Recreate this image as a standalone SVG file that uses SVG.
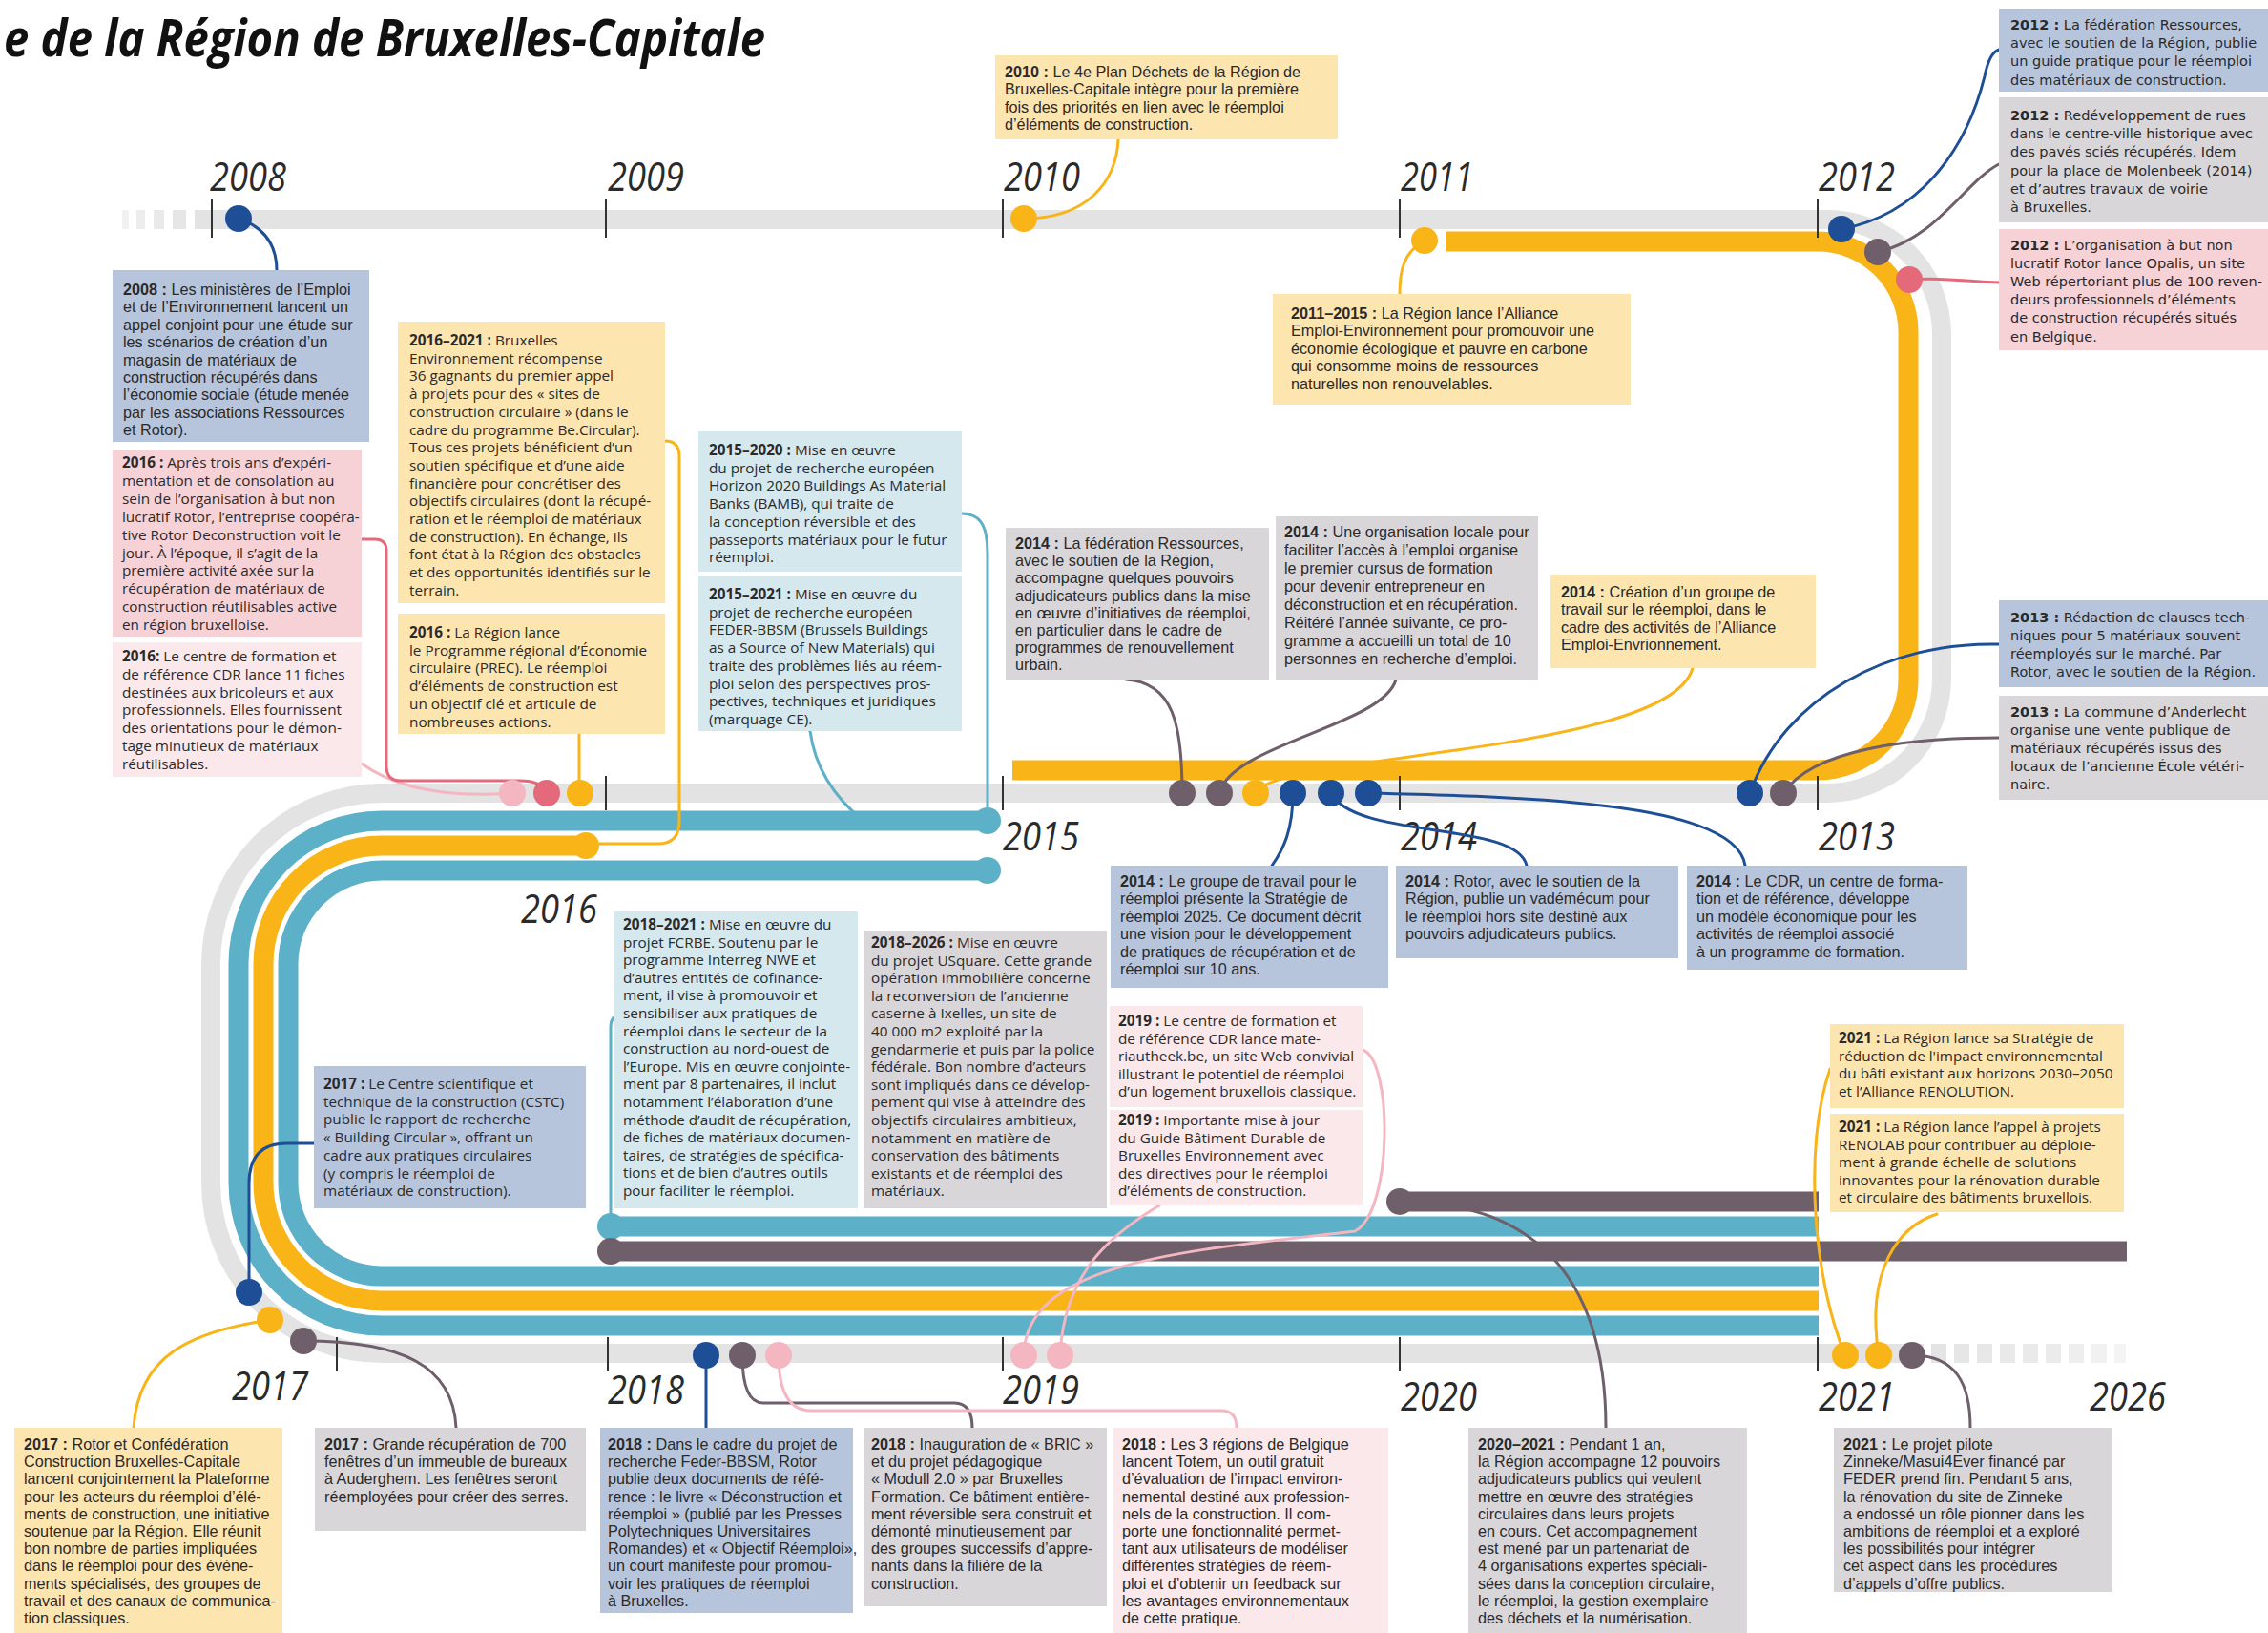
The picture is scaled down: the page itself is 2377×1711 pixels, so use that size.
<svg xmlns="http://www.w3.org/2000/svg" width="2377" height="1711" viewBox="0 0 2377 1711">
<style>
.bg{fill:#ffffff}
.title{font-family:"Open Sans","Liberation Sans",sans-serif;font-weight:700;font-style:italic;font-size:53px;fill:#111}
.yr{font-family:"Open Sans","Liberation Sans",sans-serif;font-style:italic;font-size:42px;fill:#2a2a2a}
.tick{stroke:#333;stroke-width:2}
.base{fill:none;stroke:#e3e3e3;stroke-width:20}
.band{fill:none;stroke-width:21}
.c{fill:none;stroke-width:3;stroke-linecap:round}
.t{font-family:"Open Sans","Liberation Sans",sans-serif;font-size:15.3px;fill:#2a2a2a}
.tc{font-family:"Liberation Sans","Open Sans",sans-serif;font-size:15.9px}
.tw{font-family:"DejaVu Sans","Open Sans",sans-serif;font-size:14.5px}
.k{font-weight:700}
.bx-blue{fill:#b7c5dc}.bx-yel{fill:#fde5b0}.bx-pink{fill:#f6d1d6}.bx-lpink{fill:#fbe8eb}.bx-grey{fill:#d9d6da}.bx-teal{fill:#d4e8ee}
.s-blue{stroke:#1e4f96}.s-yel{stroke:#f9b418}.s-teal{stroke:#5cb0c8}.s-mauve{stroke:#6e5f6a}.s-pink{stroke:#f4b6c1}.s-red{stroke:#e46a7b}
.f-blue{fill:#1e4f96}.f-yel{fill:#f9b418}.f-teal{fill:#5cb0c8}.f-mauve{fill:#6e5f6a}.f-pink{fill:#f4b6c1}.f-red{fill:#e46a7b}
</style>
<rect class="bg" x="0" y="0" width="2377" height="1711"/>

<text class="title" x="4" y="59" textLength="798" lengthAdjust="spacingAndGlyphs">e de la Région de Bruxelles-Capitale</text>

<!-- timeline track -->
<g id="track">
  <g fill="#e3e3e3">
    <rect x="128" y="220" width="7" height="20" opacity="0.5"/>
    <rect x="143" y="220" width="9" height="20" opacity="0.65"/>
    <rect x="161" y="220" width="11" height="20" opacity="0.8"/>
    <rect x="181" y="220" width="14" height="20" opacity="0.9"/>
  </g>
  <path class="base" d="M204,230 H1915 A120,120 0 0 1 2035,350 V711 A120,120 0 0 1 1915,831 H400 A179,179 0 0 0 221,1010 V1239 A179,179 0 0 0 400,1418 H2016"/>
  <g fill="#e3e3e3">
    <rect x="2024" y="1408" width="16" height="20" opacity="0.95"/>
    <rect x="2048" y="1408" width="16" height="20" opacity="0.9"/>
    <rect x="2072" y="1408" width="16" height="20" opacity="0.85"/>
    <rect x="2096" y="1408" width="16" height="20" opacity="0.8"/>
    <rect x="2120" y="1408" width="16" height="20" opacity="0.75"/>
    <rect x="2144" y="1408" width="16" height="20" opacity="0.7"/>
    <rect x="2168" y="1408" width="16" height="20" opacity="0.6"/>
    <rect x="2192" y="1408" width="16" height="20" opacity="0.5"/>
    <rect x="2216" y="1408" width="12" height="20" opacity="0.4"/>
  </g>
  <!-- period bands -->
  <path class="band s-yel" d="M1516,253 H1905 A95,95 0 0 1 2000,348 V712 A95,95 0 0 1 1905,807 H1061"/>
  <path class="band s-teal" d="M1035,860 H400 A150,150 0 0 0 250,1010 V1239 A150,150 0 0 0 400,1389 H1906"/>
  <path class="band s-yel" d="M614,886 H400 A124,124 0 0 0 276,1010 V1239 A124,124 0 0 0 400,1363 H1906"/>
  <path class="band s-teal" d="M1035,912 H400 A98,98 0 0 0 302,1010 V1239 A98,98 0 0 0 400,1337 H1906"/>
  <path class="band s-teal" d="M640,1285 H1906"/>
  <path class="band s-mauve" d="M640,1311 H2229"/>
  <path class="band s-mauve" d="M1467,1259 H1906"/>
  <!-- year ticks -->
  <g class="tick">
    <line x1="222" y1="209" x2="222" y2="249"/>
    <line x1="635" y1="209" x2="635" y2="249"/>
    <line x1="1051" y1="209" x2="1051" y2="249"/>
    <line x1="1467" y1="209" x2="1467" y2="249"/>
    <line x1="1905" y1="209" x2="1905" y2="249"/>
    <line x1="635" y1="813" x2="635" y2="849"/>
    <line x1="1051" y1="813" x2="1051" y2="849"/>
    <line x1="1467" y1="813" x2="1467" y2="849"/>
    <line x1="1905" y1="813" x2="1905" y2="849"/>
    <line x1="353" y1="1401" x2="353" y2="1437"/>
    <line x1="637" y1="1401" x2="637" y2="1437"/>
    <line x1="1051" y1="1401" x2="1051" y2="1437"/>
    <line x1="1467" y1="1401" x2="1467" y2="1437"/>
    <line x1="1905" y1="1401" x2="1905" y2="1437"/>
  </g>
  <g class="yr">
    <text x="220" y="200" textLength="80" lengthAdjust="spacingAndGlyphs">2008</text>
    <text x="637" y="200" textLength="80" lengthAdjust="spacingAndGlyphs">2009</text>
    <text x="1052" y="200" textLength="80" lengthAdjust="spacingAndGlyphs">2010</text>
    <text x="1468" y="200" textLength="76" lengthAdjust="spacingAndGlyphs">2011</text>
    <text x="1906" y="200" textLength="80" lengthAdjust="spacingAndGlyphs">2012</text>
    <text x="1051" y="891" textLength="80" lengthAdjust="spacingAndGlyphs">2015</text>
    <text x="1468" y="891" textLength="80" lengthAdjust="spacingAndGlyphs">2014</text>
    <text x="1906" y="891" textLength="80" lengthAdjust="spacingAndGlyphs">2013</text>
    <text x="546" y="967" textLength="80" lengthAdjust="spacingAndGlyphs">2016</text>
    <text x="243" y="1467" textLength="80" lengthAdjust="spacingAndGlyphs">2017</text>
    <text x="637" y="1471" textLength="80" lengthAdjust="spacingAndGlyphs">2018</text>
    <text x="1051" y="1471" textLength="80" lengthAdjust="spacingAndGlyphs">2019</text>
    <text x="1468" y="1478" textLength="80" lengthAdjust="spacingAndGlyphs">2020</text>
    <text x="1906" y="1478" textLength="80" lengthAdjust="spacingAndGlyphs">2021</text>
    <text x="2190" y="1478" textLength="80" lengthAdjust="spacingAndGlyphs">2026</text>
  </g>
</g>

<!-- connectors -->
<g id="connectors">
  <path class="c s-blue" d="M250,229 C282,240 290,262 290,283"/>
  <path class="c s-yel" d="M1073,229 C1140,229 1170,190 1172,146"/>
  <path class="c s-yel" d="M1493,252 C1470,265 1467,285 1467,308"/>
  <path class="c s-blue" d="M1930,240 C2010,225 2060,160 2080,80 Q2085,55 2095,52"/>
  <path class="c s-mauve" d="M1968,264 C2030,250 2060,190 2095,172"/>
  <path class="c s-red" d="M2001,293 C2040,290 2070,296 2095,296"/>
  <path class="c s-mauve" d="M1180,712 C1230,715 1239,760 1239,831"/>
  <path class="c s-mauve" d="M1278,831 C1290,780 1450,760 1463,712"/>
  <path class="c s-yel" d="M1316,831 C1330,790 1750,790 1774,700"/>
  <path class="c s-blue" d="M1355,831 C1355,870 1345,890 1333,907"/>
  <path class="c s-blue" d="M1395,831 C1420,880 1590,860 1600,907"/>
  <path class="c s-blue" d="M1434,831 C1600,835 1820,840 1829,907"/>
  <path class="c s-blue" d="M1834,831 C1870,730 1980,672 2095,675"/>
  <path class="c s-mauve" d="M1869,831 C1900,785 2000,773 2095,773"/>
  <path class="c s-pink" d="M379,800 C420,830 480,835 537,831"/>
  <path class="c s-red" d="M379,565 H393 Q405,565 405,577 V803 Q405,818 420,818 H545 Q568,818 573,831"/>
  <path class="c s-yel" d="M607,769 V831"/>
  <path class="c s-yel" d="M697,462 Q712,462 712,478 V860 Q712,884 690,884 H614"/>
  <path class="c s-teal" d="M1008,538 C1030,538 1035,555 1035,580 V860"/>
  <path class="c s-teal" d="M849,766 C855,810 880,840 905,860"/>
  <path class="c s-teal" d="M640,1285 V1075 Q640,1065 650,1063"/>
  <path class="c s-blue" d="M261,1354 V1240 Q261,1198 300,1198 H329"/>
  <path class="c s-yel" d="M283,1383 C200,1395 145,1420 140,1496"/>
  <path class="c s-mauve" d="M318,1405 C420,1405 475,1430 478,1496"/>
  <path class="c s-blue" d="M740,1420 V1496"/>
  <path class="c s-mauve" d="M778,1420 Q778,1470 800,1470 H1000 Q1019,1470 1019,1496"/>
  <path class="c s-pink" d="M816,1420 Q816,1478 850,1478 H1280 Q1296,1478 1296,1496"/>
  <path class="c s-pink" d="M1073,1420 C1075,1320 1250,1310 1420,1290 C1460,1270 1460,1110 1428,1100"/>
  <path class="c s-pink" d="M1111,1420 C1115,1330 1170,1290 1215,1263"/>
  <path class="c s-mauve" d="M1467,1259 C1600,1259 1683,1330 1683,1496"/>
  <path class="c s-yel" d="M1934,1420 C1900,1340 1890,1200 1918,1120"/>
  <path class="c s-yel" d="M1969,1420 C1955,1330 1990,1285 2030,1272"/>
  <path class="c s-mauve" d="M2004,1420 C2050,1420 2065,1450 2065,1496"/>
</g>

<!-- event dots -->
<g id="dots">
  <circle class="f-blue" cx="250" cy="229" r="14"/>
  <circle class="f-yel" cx="1073" cy="229" r="14"/>
  <circle class="f-yel" cx="1493" cy="252" r="14"/>
  <circle class="f-blue" cx="1930" cy="240" r="14"/>
  <circle class="f-mauve" cx="1968" cy="264" r="14"/>
  <circle class="f-red" cx="2001" cy="293" r="14"/>
  <circle class="f-pink" cx="537" cy="831" r="14"/>
  <circle class="f-red" cx="573" cy="831" r="14"/>
  <circle class="f-yel" cx="608" cy="831" r="14"/>
  <circle class="f-yel" cx="614" cy="886" r="14"/>
  <circle class="f-teal" cx="1035" cy="860" r="14"/>
  <circle class="f-teal" cx="1035" cy="912" r="14"/>
  <circle class="f-mauve" cx="1239" cy="831" r="14"/>
  <circle class="f-mauve" cx="1278" cy="831" r="14"/>
  <circle class="f-yel" cx="1316" cy="831" r="14"/>
  <circle class="f-blue" cx="1355" cy="831" r="14"/>
  <circle class="f-blue" cx="1395" cy="831" r="14"/>
  <circle class="f-blue" cx="1434" cy="831" r="14"/>
  <circle class="f-blue" cx="1834" cy="831" r="14"/>
  <circle class="f-mauve" cx="1869" cy="831" r="14"/>
  <circle class="f-blue" cx="261" cy="1354" r="14"/>
  <circle class="f-yel" cx="283" cy="1383" r="14"/>
  <circle class="f-mauve" cx="318" cy="1405" r="14"/>
  <circle class="f-teal" cx="640" cy="1285" r="14"/>
  <circle class="f-mauve" cx="640" cy="1311" r="14"/>
  <circle class="f-mauve" cx="1467" cy="1259" r="14"/>
  <circle class="f-blue" cx="740" cy="1420" r="14"/>
  <circle class="f-mauve" cx="778" cy="1420" r="14"/>
  <circle class="f-pink" cx="816" cy="1420" r="14"/>
  <circle class="f-pink" cx="1073" cy="1420" r="14"/>
  <circle class="f-pink" cx="1111" cy="1420" r="14"/>
  <circle class="f-yel" cx="1934" cy="1420" r="14"/>
  <circle class="f-yel" cx="1969" cy="1420" r="14"/>
  <circle class="f-mauve" cx="2004" cy="1420" r="14"/>
</g>

<!-- event boxes -->
<g id="ev-2008">
  <rect class="bx-blue" x="118" y="283" width="269" height="180"/>
  <text class="t tc" transform="translate(129,309) scale(1.02,1)"><tspan x="0" y="0"><tspan class="k">2008 :</tspan> Les ministères de l’Emploi</tspan><tspan x="0" dy="18.4">et de l’Environnement lancent un</tspan><tspan x="0" dy="18.4">appel conjoint pour une étude sur</tspan><tspan x="0" dy="18.4">les scénarios de création d’un</tspan><tspan x="0" dy="18.4">magasin de matériaux de</tspan><tspan x="0" dy="18.4">construction récupérés dans</tspan><tspan x="0" dy="18.4">l’économie sociale (étude menée</tspan><tspan x="0" dy="18.4">par les associations Ressources</tspan><tspan x="0" dy="18.4">et Rotor).</tspan></text>
</g>
<g id="ev-2016-rotor">
  <rect class="bx-pink" x="118" y="471" width="261" height="196"/>
  <text class="t" x="128" y="490"><tspan class="k">2016 :</tspan> Après trois ans d’expéri-<tspan x="128" dy="18.9">mentation et de consolation au</tspan><tspan x="128" dy="18.9">sein de l’organisation à but non</tspan><tspan x="128" dy="18.9">lucratif Rotor, l’entreprise coopéra-</tspan><tspan x="128" dy="18.9">tive Rotor Deconstruction voit le</tspan><tspan x="128" dy="18.9">jour. À l’époque, il s’agit de la</tspan><tspan x="128" dy="18.9">première activité axée sur la</tspan><tspan x="128" dy="18.9">récupération de matériaux de</tspan><tspan x="128" dy="18.9">construction réutilisables active</tspan><tspan x="128" dy="18.9">en région bruxelloise.</tspan></text>
</g>
<g id="ev-2016-cdr">
  <rect class="bx-lpink" x="118" y="673" width="261" height="141"/>
  <text class="t" x="128" y="693"><tspan class="k">2016:</tspan> Le centre de formation et<tspan x="128" dy="18.8">de référence CDR lance 11 fiches</tspan><tspan x="128" dy="18.8">destinées aux bricoleurs et aux</tspan><tspan x="128" dy="18.8">professionnels. Elles fournissent</tspan><tspan x="128" dy="18.8">des orientations pour le démon-</tspan><tspan x="128" dy="18.8">tage minutieux de matériaux</tspan><tspan x="128" dy="18.8">réutilisables.</tspan></text>
</g>
<g id="ev-2016-2021">
  <rect class="bx-yel" x="417" y="337" width="280" height="295"/>
  <text class="t" x="429" y="362"><tspan class="k">2016–2021 :</tspan> Bruxelles<tspan x="429" dy="18.7">Environnement récompense</tspan><tspan x="429" dy="18.7">36 gagnants du premier appel</tspan><tspan x="429" dy="18.7">à projets pour des « sites de</tspan><tspan x="429" dy="18.7">construction circulaire » (dans le</tspan><tspan x="429" dy="18.7">cadre du programme Be.Circular).</tspan><tspan x="429" dy="18.7">Tous ces projets bénéficient d’un</tspan><tspan x="429" dy="18.7">soutien spécifique et d’une aide</tspan><tspan x="429" dy="18.7">financière  pour concrétiser des</tspan><tspan x="429" dy="18.7">objectifs circulaires (dont la récupé-</tspan><tspan x="429" dy="18.7">ration et le réemploi de matériaux</tspan><tspan x="429" dy="18.7">de construction). En échange, ils</tspan><tspan x="429" dy="18.7">font état à la Région des obstacles</tspan><tspan x="429" dy="18.7">et des opportunités identifiés sur le</tspan><tspan x="429" dy="18.7">terrain.</tspan></text>
</g>
<g id="ev-2016-prec">
  <rect class="bx-yel" x="417" y="643" width="280" height="126"/>
  <text class="t" x="429" y="668"><tspan class="k">2016 :</tspan> La Région lance<tspan x="429" dy="18.7">le Programme régional d’Économie</tspan><tspan x="429" dy="18.7">circulaire (PREC). Le réemploi</tspan><tspan x="429" dy="18.7">d’éléments de construction est</tspan><tspan x="429" dy="18.7">un objectif clé et articule de</tspan><tspan x="429" dy="18.7">nombreuses actions.</tspan></text>
</g>
<g id="ev-2015-2020">
  <rect class="bx-teal" x="732" y="452" width="276" height="147"/>
  <text class="t" x="743" y="477"><tspan class="k">2015–2020 :</tspan> Mise en œuvre<tspan x="743" dy="18.7">du projet de recherche européen</tspan><tspan x="743" dy="18.7">Horizon 2020 Buildings As Material</tspan><tspan x="743" dy="18.7">Banks (BAMB), qui traite de</tspan><tspan x="743" dy="18.7">la conception réversible et des</tspan><tspan x="743" dy="18.7">passeports matériaux pour le futur</tspan><tspan x="743" dy="18.7">réemploi.</tspan></text>
</g>
<g id="ev-2015-2021">
  <rect class="bx-teal" x="732" y="604" width="276" height="162"/>
  <text class="t" x="743" y="628"><tspan class="k">2015–2021 :</tspan> Mise en œuvre du<tspan x="743" dy="18.7">projet de recherche européen</tspan><tspan x="743" dy="18.7">FEDER-BBSM (Brussels Buildings</tspan><tspan x="743" dy="18.7">as a Source of New Materials) qui</tspan><tspan x="743" dy="18.7">traite des problèmes liés au réem-</tspan><tspan x="743" dy="18.7">ploi selon des perspectives pros-</tspan><tspan x="743" dy="18.7">pectives, techniques et juridiques</tspan><tspan x="743" dy="18.7">(marquage CE).</tspan></text>
</g>
<g id="ev-2010">
  <rect class="bx-yel" x="1043" y="58" width="359" height="88"/>
  <text class="t tc" transform="translate(1053,81) scale(1.02,1)"><tspan x="0" y="0"><tspan class="k">2010 :</tspan> Le 4e Plan Déchets de la Région de</tspan><tspan x="0" dy="18.3">Bruxelles-Capitale intègre pour la première</tspan><tspan x="0" dy="18.3">fois des priorités en lien avec le réemploi</tspan><tspan x="0" dy="18.3">d’éléments de construction.</tspan></text>
</g>
<g id="ev-2011-2015">
  <rect class="bx-yel" x="1334" y="308" width="375" height="116"/>
  <text class="t tc" transform="translate(1353,334) scale(1.02,1)"><tspan x="0" y="0"><tspan class="k">2011–2015 :</tspan> La Région lance l’Alliance</tspan><tspan x="0" dy="18.5">Emploi-Environnement pour promouvoir une</tspan><tspan x="0" dy="18.5">économie écologique et pauvre en carbone</tspan><tspan x="0" dy="18.5">qui consomme moins de ressources</tspan><tspan x="0" dy="18.5">naturelles non renouvelables.</tspan></text>
</g>
<g id="ev-2012-guide">
  <rect class="bx-blue" x="2095" y="9" width="282" height="87"/>
  <text class="t tw" x="2107" y="31"><tspan class="k">2012 :</tspan> La fédération Ressources,<tspan x="2107" dy="19.2">avec le soutien de la Région, publie</tspan><tspan x="2107" dy="19.2">un guide pratique pour le réemploi</tspan><tspan x="2107" dy="19.2">des matériaux de construction.</tspan></text>
</g>
<g id="ev-2012-rues">
  <rect class="bx-grey" x="2095" y="102" width="282" height="131"/>
  <text class="t tw" x="2107" y="126"><tspan class="k">2012 :</tspan> Redéveloppement de rues<tspan x="2107" dy="19.2">dans le centre-ville historique avec</tspan><tspan x="2107" dy="19.2">des pavés sciés récupérés. Idem</tspan><tspan x="2107" dy="19.2">pour la place de Molenbeek (2014)</tspan><tspan x="2107" dy="19.2">et d’autres travaux de voirie</tspan><tspan x="2107" dy="19.2">à Bruxelles.</tspan></text>
</g>
<g id="ev-2012-opalis">
  <rect class="bx-pink" x="2095" y="240" width="282" height="127"/>
  <text class="t tw" x="2107" y="262"><tspan class="k">2012 :</tspan> L’organisation à but non<tspan x="2107" dy="19.1">lucratif Rotor lance Opalis, un site</tspan><tspan x="2107" dy="19.1">Web répertoriant plus de 100 reven-</tspan><tspan x="2107" dy="19.1">deurs professionnels d’éléments</tspan><tspan x="2107" dy="19.1">de construction récupérés situés</tspan><tspan x="2107" dy="19.1">en Belgique.</tspan></text>
</g>
<g id="ev-2014-ressources">
  <rect class="bx-grey" x="1054" y="553" width="276" height="159"/>
  <text class="t tc" transform="translate(1064,575) scale(1.02,1)"><tspan x="0" y="0"><tspan class="k">2014 :</tspan> La fédération Ressources,</tspan><tspan x="0" dy="18.2">avec le soutien de la Région,</tspan><tspan x="0" dy="18.2">accompagne quelques pouvoirs</tspan><tspan x="0" dy="18.2">adjudicateurs publics dans la mise</tspan><tspan x="0" dy="18.2">en œuvre d’initiatives de réemploi,</tspan><tspan x="0" dy="18.2">en particulier dans le cadre de</tspan><tspan x="0" dy="18.2">programmes de renouvellement</tspan><tspan x="0" dy="18.2">urbain.</tspan></text>
</g>
<g id="ev-2014-formation">
  <rect class="bx-grey" x="1337" y="541" width="275" height="171"/>
  <text class="t tc" transform="translate(1346,563) scale(1.02,1)"><tspan x="0" y="0"><tspan class="k">2014 :</tspan> Une organisation locale pour</tspan><tspan x="0" dy="19">faciliter l’accès à l’emploi organise</tspan><tspan x="0" dy="19">le premier cursus de formation</tspan><tspan x="0" dy="19">pour devenir entrepreneur en</tspan><tspan x="0" dy="19">déconstruction et en récupération.</tspan><tspan x="0" dy="19">Réitéré l’année suivante, ce pro-</tspan><tspan x="0" dy="19">gramme a accueilli un total de 10</tspan><tspan x="0" dy="19">personnes en recherche d’emploi.</tspan></text>
</g>
<g id="ev-2014-groupe-alliance">
  <rect class="bx-yel" x="1625" y="602" width="278" height="98"/>
  <text class="t tc" transform="translate(1636,626) scale(1.02,1)"><tspan x="0" y="0"><tspan class="k">2014 :</tspan> Création d’un groupe de</tspan><tspan x="0" dy="18.5">travail sur le réemploi, dans le</tspan><tspan x="0" dy="18.5">cadre des activités de l’Alliance</tspan><tspan x="0" dy="18.5">Emploi-Envrionnement.</tspan></text>
</g>
<g id="ev-2013-clauses">
  <rect class="bx-blue" x="2095" y="629" width="282" height="91"/>
  <text class="t tw" x="2107" y="652"><tspan class="k">2013 :</tspan> Rédaction de clauses tech-<tspan x="2107" dy="19">niques pour 5 matériaux souvent</tspan><tspan x="2107" dy="19">réemployés sur le marché. Par</tspan><tspan x="2107" dy="19">Rotor, avec le soutien de la Région.</tspan></text>
</g>
<g id="ev-2013-anderlecht">
  <rect class="bx-grey" x="2095" y="729" width="282" height="109"/>
  <text class="t tw" x="2107" y="751"><tspan class="k">2013 :</tspan> La commune d’Anderlecht<tspan x="2107" dy="19">organise une vente publique de</tspan><tspan x="2107" dy="19">matériaux récupérés issus des</tspan><tspan x="2107" dy="19">locaux de l’ancienne École vétéri-</tspan><tspan x="2107" dy="19">naire.</tspan></text>
</g>
<g id="ev-2014-strategie">
  <rect class="bx-blue" x="1164" y="907" width="291" height="128"/>
  <text class="t tc" transform="translate(1174,929) scale(1.02,1)"><tspan x="0" y="0"><tspan class="k">2014 :</tspan> Le groupe de travail pour le</tspan><tspan x="0" dy="18.5">réemploi présente la Stratégie de</tspan><tspan x="0" dy="18.5">réemploi 2025. Ce document décrit</tspan><tspan x="0" dy="18.5">une vision pour le développement</tspan><tspan x="0" dy="18.5">de pratiques de récupération et de</tspan><tspan x="0" dy="18.5">réemploi sur 10 ans.</tspan></text>
</g>
<g id="ev-2014-vademecum">
  <rect class="bx-blue" x="1463" y="907" width="296" height="97"/>
  <text class="t tc" transform="translate(1473,929) scale(1.02,1)"><tspan x="0" y="0"><tspan class="k">2014 :</tspan> Rotor, avec le soutien de la</tspan><tspan x="0" dy="18.5">Région, publie un vadémécum pour</tspan><tspan x="0" dy="18.5">le réemploi hors site destiné aux</tspan><tspan x="0" dy="18.5">pouvoirs adjudicateurs publics.</tspan></text>
</g>
<g id="ev-2014-cdr">
  <rect class="bx-blue" x="1768" y="907" width="294" height="109"/>
  <text class="t tc" transform="translate(1778,929) scale(1.02,1)"><tspan x="0" y="0"><tspan class="k">2014 :</tspan> Le CDR, un centre de forma-</tspan><tspan x="0" dy="18.5">tion et de référence, développe</tspan><tspan x="0" dy="18.5">un modèle économique pour les</tspan><tspan x="0" dy="18.5">activités de réemploi associé</tspan><tspan x="0" dy="18.5">à un programme de formation.</tspan></text>
</g>
<g id="ev-2017-cstc">
  <rect class="bx-blue" x="329" y="1117" width="285" height="149"/>
  <text class="t" x="339" y="1141"><tspan class="k">2017 :</tspan> Le Centre scientifique et<tspan x="339" dy="18.7">technique de la construction (CSTC)</tspan><tspan x="339" dy="18.7">publie le rapport de recherche</tspan><tspan x="339" dy="18.7">« Building Circular », offrant un</tspan><tspan x="339" dy="18.7">cadre aux pratiques circulaires</tspan><tspan x="339" dy="18.7">(y compris le réemploi de</tspan><tspan x="339" dy="18.7">matériaux de construction).</tspan></text>
</g>
<g id="ev-2018-2021">
  <rect class="bx-teal" x="644" y="955" width="255" height="311"/>
  <text class="t" x="653" y="974"><tspan class="k">2018–2021 :</tspan>  Mise en œuvre du<tspan x="653" dy="18.6">projet FCRBE. Soutenu par le</tspan><tspan x="653" dy="18.6">programme Interreg NWE et</tspan><tspan x="653" dy="18.6">d’autres entités de cofinance-</tspan><tspan x="653" dy="18.6">ment, il vise à promouvoir et</tspan><tspan x="653" dy="18.6">sensibiliser aux pratiques de</tspan><tspan x="653" dy="18.6">réemploi dans le secteur de la</tspan><tspan x="653" dy="18.6">construction au nord-ouest de</tspan><tspan x="653" dy="18.6">l’Europe. Mis en œuvre conjointe-</tspan><tspan x="653" dy="18.6">ment par 8 partenaires, il inclut</tspan><tspan x="653" dy="18.6">notamment l’élaboration d’une</tspan><tspan x="653" dy="18.6">méthode d’audit de récupération,</tspan><tspan x="653" dy="18.6">de fiches de matériaux documen-</tspan><tspan x="653" dy="18.6">taires, de stratégies de spécifica-</tspan><tspan x="653" dy="18.6">tions et de bien d’autres outils</tspan><tspan x="653" dy="18.6">pour faciliter le réemploi.</tspan></text>
</g>
<g id="ev-2018-2026">
  <rect class="bx-grey" x="905" y="975" width="255" height="291"/>
  <text class="t" x="913" y="993"><tspan class="k">2018–2026 :</tspan> Mise en œuvre<tspan x="913" dy="18.6">du projet USquare. Cette grande</tspan><tspan x="913" dy="18.6">opération immobilière concerne</tspan><tspan x="913" dy="18.6">la reconversion de l’ancienne</tspan><tspan x="913" dy="18.6">caserne à Ixelles, un site de</tspan><tspan x="913" dy="18.6">40 000 m2 exploité par la</tspan><tspan x="913" dy="18.6">gendarmerie et puis par la police</tspan><tspan x="913" dy="18.6">fédérale. Bon nombre d’acteurs</tspan><tspan x="913" dy="18.6">sont impliqués dans ce dévelop-</tspan><tspan x="913" dy="18.6">pement qui vise à atteindre des</tspan><tspan x="913" dy="18.6">objectifs circulaires ambitieux,</tspan><tspan x="913" dy="18.6">notamment en matière de</tspan><tspan x="913" dy="18.6">conservation des bâtiments</tspan><tspan x="913" dy="18.6">existants et de réemploi des</tspan><tspan x="913" dy="18.6">matériaux.</tspan></text>
</g>
<g id="ev-2019-materiautheek">
  <rect class="bx-lpink" x="1163" y="1054" width="265" height="106"/>
  <text class="t" x="1172" y="1075"><tspan class="k">2019 :</tspan> Le centre de formation et<tspan x="1172" dy="18.6">de référence CDR lance mate-</tspan><tspan x="1172" dy="18.6">riautheek.be, un site Web convivial</tspan><tspan x="1172" dy="18.6">illustrant le potentiel de réemploi</tspan><tspan x="1172" dy="18.6">d’un logement bruxellois classique.</tspan></text>
</g>
<g id="ev-2019-guide">
  <rect class="bx-lpink" x="1163" y="1163" width="265" height="100"/>
  <text class="t" x="1172" y="1179"><tspan class="k">2019 :</tspan> Importante mise à jour<tspan x="1172" dy="18.6">du Guide Bâtiment Durable de</tspan><tspan x="1172" dy="18.6">Bruxelles Environnement avec</tspan><tspan x="1172" dy="18.6">des directives pour le réemploi</tspan><tspan x="1172" dy="18.6">d’éléments de construction.</tspan></text>
</g>
<g id="ev-2021-strategie">
  <rect class="bx-yel" x="1918" y="1073" width="308" height="88"/>
  <text class="t" x="1927" y="1093"><tspan class="k">2021 :</tspan> La Région lance sa Stratégie de<tspan x="1927" dy="18.6">réduction de l'impact environnemental</tspan><tspan x="1927" dy="18.6">du bâti existant aux horizons 2030–2050</tspan><tspan x="1927" dy="18.6">et l’Alliance RENOLUTION.</tspan></text>
</g>
<g id="ev-2021-renolab">
  <rect class="bx-yel" x="1918" y="1167" width="308" height="103"/>
  <text class="t" x="1927" y="1186"><tspan class="k">2021 :</tspan> La Région lance l’appel à projets<tspan x="1927" dy="18.6">RENOLAB pour contribuer au déploie-</tspan><tspan x="1927" dy="18.6">ment à grande échelle de solutions</tspan><tspan x="1927" dy="18.6">innovantes pour la rénovation durable</tspan><tspan x="1927" dy="18.6">et circulaire des bâtiments bruxellois.</tspan></text>
</g>
<g id="ev-2017-plateforme">
  <rect class="bx-yel" x="15" y="1496" width="281" height="215"/>
  <text class="t tc" transform="translate(25,1519) scale(1.02,1)"><tspan x="0" y="0"><tspan class="k">2017 :</tspan> Rotor et Confédération</tspan><tspan x="0" dy="18.2">Construction Bruxelles-Capitale</tspan><tspan x="0" dy="18.2">lancent conjointement la Plateforme</tspan><tspan x="0" dy="18.2">pour les acteurs du réemploi d’élé-</tspan><tspan x="0" dy="18.2">ments de construction, une initiative</tspan><tspan x="0" dy="18.2">soutenue par la Région. Elle réunit</tspan><tspan x="0" dy="18.2">bon nombre de parties impliquées</tspan><tspan x="0" dy="18.2">dans le réemploi pour des évène-</tspan><tspan x="0" dy="18.2">ments spécialisés, des groupes de</tspan><tspan x="0" dy="18.2">travail et des canaux de communica-</tspan><tspan x="0" dy="18.2">tion classiques.</tspan></text>
</g>
<g id="ev-2017-fenetres">
  <rect class="bx-grey" x="330" y="1496" width="284" height="108"/>
  <text class="t tc" transform="translate(340,1519) scale(1.02,1)"><tspan x="0" y="0"><tspan class="k">2017 :</tspan> Grande récupération de 700</tspan><tspan x="0" dy="18.2">fenêtres d’un immeuble de bureaux</tspan><tspan x="0" dy="18.2">à Auderghem. Les fenêtres seront</tspan><tspan x="0" dy="18.2">réemployées pour créer des serres.</tspan></text>
</g>
<g id="ev-2018-feder">
  <rect class="bx-blue" x="629" y="1496" width="265" height="194"/>
  <text class="t tc" transform="translate(637,1519) scale(1.02,1)"><tspan x="0" y="0"><tspan class="k">2018 :</tspan> Dans le cadre du projet de</tspan><tspan x="0" dy="18.2">recherche Feder-BBSM, Rotor</tspan><tspan x="0" dy="18.2">publie deux documents de réfé-</tspan><tspan x="0" dy="18.2">rence : le livre « Déconstruction et</tspan><tspan x="0" dy="18.2">réemploi » (publié par les Presses</tspan><tspan x="0" dy="18.2">Polytechniques Universitaires</tspan><tspan x="0" dy="18.2">Romandes) et « Objectif Réemploi»,</tspan><tspan x="0" dy="18.2">un court manifeste pour promou-</tspan><tspan x="0" dy="18.2">voir les pratiques de réemploi</tspan><tspan x="0" dy="18.2">à Bruxelles.</tspan></text>
</g>
<g id="ev-2018-bric">
  <rect class="bx-grey" x="905" y="1496" width="255" height="187"/>
  <text class="t tc" transform="translate(913,1519) scale(1.02,1)"><tspan x="0" y="0"><tspan class="k">2018 :</tspan> Inauguration de « BRIC »</tspan><tspan x="0" dy="18.2">et du projet pédagogique</tspan><tspan x="0" dy="18.2">« Modull 2.0 » par Bruxelles</tspan><tspan x="0" dy="18.2">Formation. Ce bâtiment entière-</tspan><tspan x="0" dy="18.2">ment réversible sera construit et</tspan><tspan x="0" dy="18.2">démonté minutieusement par</tspan><tspan x="0" dy="18.2">des groupes successifs d’appre-</tspan><tspan x="0" dy="18.2">nants dans la filière de la</tspan><tspan x="0" dy="18.2">construction.</tspan></text>
</g>
<g id="ev-2018-totem">
  <rect class="bx-lpink" x="1167" y="1496" width="288" height="215"/>
  <text class="t tc" transform="translate(1176,1519) scale(1.02,1)"><tspan x="0" y="0"><tspan class="k">2018 :</tspan> Les 3 régions de Belgique</tspan><tspan x="0" dy="18.2">lancent Totem, un outil gratuit</tspan><tspan x="0" dy="18.2">d’évaluation de l’impact environ-</tspan><tspan x="0" dy="18.2">nemental destiné aux profession-</tspan><tspan x="0" dy="18.2">nels de la construction. Il com-</tspan><tspan x="0" dy="18.2">porte une fonctionnalité permet-</tspan><tspan x="0" dy="18.2">tant aux utilisateurs de modéliser</tspan><tspan x="0" dy="18.2">différentes stratégies de réem-</tspan><tspan x="0" dy="18.2">ploi et d’obtenir un feedback sur</tspan><tspan x="0" dy="18.2">les avantages environnementaux</tspan><tspan x="0" dy="18.2">de cette pratique.</tspan></text>
</g>
<g id="ev-2020-2021">
  <rect class="bx-grey" x="1539" y="1496" width="292" height="215"/>
  <text class="t tc" transform="translate(1549,1519) scale(1.02,1)"><tspan x="0" y="0"><tspan class="k">2020–2021 :</tspan> Pendant 1 an,</tspan><tspan x="0" dy="18.2">la Région accompagne 12 pouvoirs</tspan><tspan x="0" dy="18.2">adjudicateurs publics qui veulent</tspan><tspan x="0" dy="18.2">mettre en œuvre des stratégies</tspan><tspan x="0" dy="18.2">circulaires dans leurs projets</tspan><tspan x="0" dy="18.2">en cours. Cet accompagnement</tspan><tspan x="0" dy="18.2">est mené par un partenariat de</tspan><tspan x="0" dy="18.2">4 organisations expertes spéciali-</tspan><tspan x="0" dy="18.2">sées dans la conception circulaire,</tspan><tspan x="0" dy="18.2">le réemploi, la gestion exemplaire</tspan><tspan x="0" dy="18.2">des déchets et la numérisation.</tspan></text>
</g>
<g id="ev-2021-zinneke">
  <rect class="bx-grey" x="1922" y="1496" width="291" height="172"/>
  <text class="t tc" transform="translate(1932,1519) scale(1.02,1)"><tspan x="0" y="0"><tspan class="k">2021 :</tspan> Le projet pilote</tspan><tspan x="0" dy="18.2">Zinneke/Masui4Ever financé par</tspan><tspan x="0" dy="18.2">FEDER prend fin. Pendant 5 ans,</tspan><tspan x="0" dy="18.2">la rénovation du site de Zinneke</tspan><tspan x="0" dy="18.2">a endossé un rôle pionner dans les</tspan><tspan x="0" dy="18.2">ambitions de réemploi et a exploré</tspan><tspan x="0" dy="18.2">les possibilités pour intégrer</tspan><tspan x="0" dy="18.2">cet aspect dans les procédures</tspan><tspan x="0" dy="18.2">d’appels d’offre publics.</tspan></text>
</g>
</svg>
